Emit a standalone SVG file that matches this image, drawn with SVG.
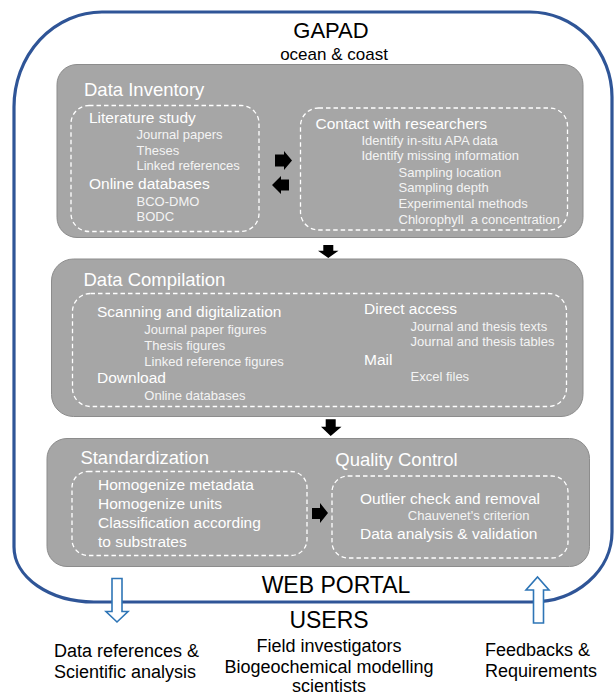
<svg xmlns="http://www.w3.org/2000/svg" width="615" height="697" viewBox="0 0 615 697">
<style>
text{font-family:"Liberation Sans",Arial,sans-serif;}
.box{fill:#A6A6A6;stroke:#8C8C8C;stroke-width:1;}
.dash{fill:none;stroke:#FFFFFF;stroke-width:1.3;stroke-dasharray:4.5 3;}
.h1{font-size:18.5px;fill:#FFFFFF;}
.h2{font-size:15.5px;fill:#FFFFFF;}
.it{font-size:13px;fill:#F4F4F4;}
.blk{font-size:18px;fill:#000000;}
.big{font-size:23px;fill:#000000;}
.arr{fill:#000000;}
.harr{fill:#FFFFFF;stroke:#2E75B6;stroke-width:1.6;}
</style>
<rect width="615" height="697" fill="#FFFFFF"/>
<g id="frame">
<path d="M102,12 H530 A82,85 0 0 1 612,97 V532 A80,70 0 0 1 532,602 H94 A80,55 0 0 1 14,547 V107 A88,95 0 0 1 102,12 Z" fill="none" stroke="#2F5597" stroke-width="3.2"/>
<text x="331" y="38" text-anchor="middle" style="font-size:22px" fill="#000">GAPAD</text>
<text x="334" y="60" text-anchor="middle" style="font-size:17px" fill="#000">ocean &amp; coast</text>
<text x="336" y="593" text-anchor="middle" class="big">WEB PORTAL</text>
</g>
<g id="data-inventory">
<rect class="box" x="57" y="64.5" width="526" height="173" rx="20"/>
<text x="84" y="96" class="h1">Data Inventory</text>
<rect class="dash" x="71" y="105.5" width="188" height="126" rx="18"/>
<text x="89" y="122.5" class="h2">Literature study</text>
<text x="136.5" y="139" class="it">Journal papers</text>
<text x="136.5" y="154.5" class="it">Theses</text>
<text x="136.5" y="170" class="it">Linked references</text>
<text x="89" y="188.5" class="h2">Online databases</text>
<text x="136.5" y="205.5" class="it">BCO-DMO</text>
<text x="136.5" y="221" class="it">BODC</text>
<rect class="dash" x="300.5" y="108" width="267" height="122" rx="18"/>
<text x="315.5" y="129" class="h2">Contact with researchers</text>
<text x="361.5" y="144.5" class="it">Identify in-situ APA data</text>
<text x="361.5" y="160.3" class="it">Identify missing information</text>
<text x="398.5" y="177" class="it">Sampling location</text>
<text x="398.5" y="192.3" class="it">Sampling depth</text>
<text x="398.5" y="208" class="it">Experimental methods</text>
<text x="398.5" y="224" class="it" xml:space="preserve">Chlorophyll  a concentration</text>
</g>
<g id="data-compilation">
<rect class="box" x="51.5" y="259" width="531.5" height="157.5" rx="22"/>
<text x="83.5" y="285.5" class="h1">Data Compilation</text>
<rect class="dash" x="72.5" y="293.5" width="494" height="113" rx="18"/>
<text x="97" y="316.5" class="h2">Scanning and digitalization</text>
<text x="144.3" y="334" class="it">Journal paper figures</text>
<text x="144.3" y="350" class="it">Thesis figures</text>
<text x="144.3" y="366" class="it">Linked reference figures</text>
<text x="97" y="383" class="h2">Download</text>
<text x="144.3" y="400" class="it">Online databases</text>
<text x="364" y="314" class="h2">Direct access</text>
<text x="410.6" y="330.7" class="it">Journal and thesis texts</text>
<text x="410.6" y="345.7" class="it">Journal and thesis tables</text>
<text x="364" y="364.5" class="h2">Mail</text>
<text x="410.6" y="381.4" class="it">Excel files</text>
</g>
<g id="standardization-qc">
<rect class="box" x="47" y="438.5" width="542.5" height="128" rx="20"/>
<text x="80.4" y="463.5" class="h1">Standardization</text>
<rect class="dash" x="72" y="471.5" width="235" height="84" rx="16"/>
<text x="98" y="490" class="h2">Homogenize metadata</text>
<text x="98" y="508.5" class="h2">Homogenize units</text>
<text x="98" y="527.5" class="h2">Classification according</text>
<text x="98" y="546.5" class="h2">to substrates</text>
<text x="335.3" y="466" class="h1">Quality Control</text>
<rect class="dash" x="332" y="476" width="236" height="82" rx="16"/>
<text x="360" y="504" class="h2">Outlier check and removal</text>
<text x="407.8" y="520" class="it">Chauvenet's criterion</text>
<text x="360" y="539" class="h2">Data analysis &amp; validation</text>
</g>
<g id="users">
<text x="329" y="628" text-anchor="middle" class="big">USERS</text>
<text x="329" y="652" text-anchor="middle" class="blk">Field investigators</text>
<text x="329" y="673" text-anchor="middle" class="blk">Biogeochemical modelling</text>
<text x="329" y="692" text-anchor="middle" class="blk">scientists</text>
</g>
<g id="outputs">
<text x="54" y="656.5" class="blk">Data references &amp;</text>
<text x="54" y="678" class="blk">Scientific analysis</text>
</g>
<g id="inputs">
<text x="485" y="656" class="blk">Feedbacks &amp;</text>
<text x="485" y="677" class="blk">Requirements</text>
</g>
<g id="connectors">
<polygon class="arr" points="275,154.5 284,154.5 284,151 292,160.5 284,170 284,166.5 275,166.5"/>
<polygon class="arr" points="289,179.5 281,179.5 281,176 272,185 281,194 281,190.5 289,190.5"/>
<polygon class="arr" points="323.3,245 333.3,245 333.3,250.7 338.5,250.7 328.3,258 318,250.7 323.3,250.7"/>
<polygon class="arr" points="325.7,419.3 335.7,419.3 335.7,426.7 341.5,426.7 330.7,436 321,426.7 325.7,426.7"/>
<polygon class="arr" points="312,508 320,508 320,503 328,513 320,523 320,519 312,519"/>
<polygon class="harr" points="112,578.5 122,578.5 122,611.5 128,611.5 117,622 106,611.5 112,611.5"/>
<polygon class="harr" points="533.5,623 543.5,623 543.5,590 549,590 537.5,577 526,590 533.5,590"/>
</g>
</svg>
